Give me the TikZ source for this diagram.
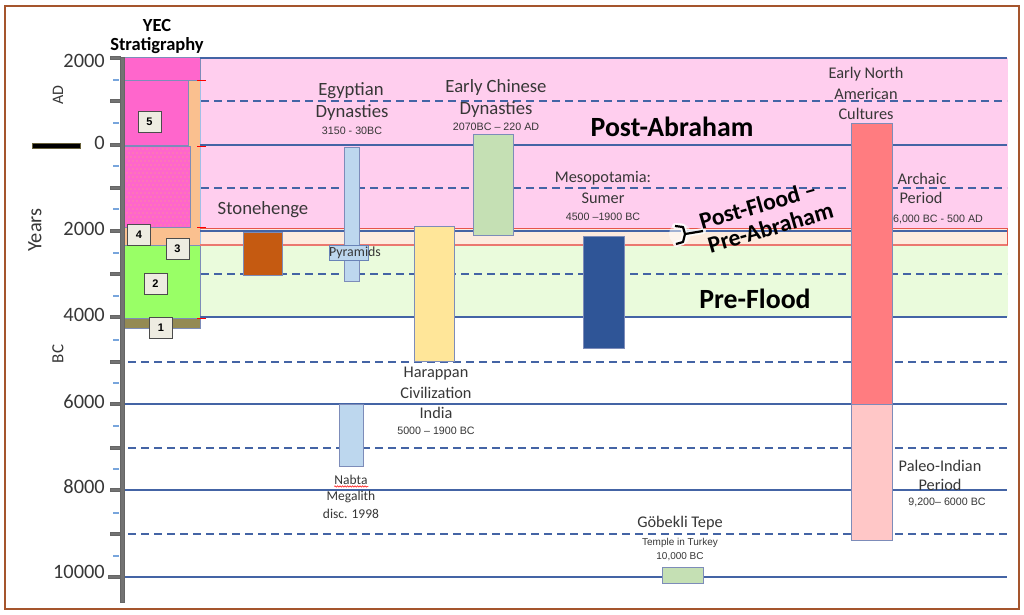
\documentclass[tikz,border=0pt]{standalone}
\usepackage{fontspec}
\setmainfont{Carlito}
\newfontfamily\arialf{Liberation Sans}
\usetikzlibrary{decorations.pathmorphing}
\definecolor{framec}{RGB}{165,85,45}
\definecolor{linec}{RGB}{68,100,165}
\definecolor{pinkband}{RGB}{255,206,238}
\definecolor{peachband}{RGB}{253,235,222}
\definecolor{greenband}{RGB}{234,251,220}
\definecolor{redl}{RGB}{230,85,75}
\definecolor{magc}{RGB}{255,102,204}
\definecolor{peachc}{RGB}{250,192,143}
\definecolor{greenc}{RGB}{153,255,102}
\definecolor{olivec}{RGB}{148,138,84}
\definecolor{creamc}{RGB}{238,236,225}
\definecolor{axisc}{RGB}{115,115,115}
\definecolor{minorc}{RGB}{120,165,220}
\definecolor{lblue}{RGB}{189,215,238}
\definecolor{lgreen}{RGB}{197,224,180}
\definecolor{lyellow}{RGB}{255,230,153}
\definecolor{dblue}{RGB}{47,85,151}
\definecolor{obrown}{RGB}{197,90,17}
\definecolor{salmon}{RGB}{255,124,128}
\definecolor{lpink}{RGB}{255,199,199}
\definecolor{barl}{RGB}{125,140,185}
\definecolor{txtc}{RGB}{55,55,55}
\definecolor{dotc}{RGB}{250,170,120}
\newcommand\myfs[1]{\fontsize{#1}{#1}\selectfont}
\tikzset{
  hl/.style={draw=linec, line width=1.3},
  hd/.style={draw=linec, line width=1.3, dash pattern=on 8pt off 5pt},
  bar/.style={draw=barl, line width=0.7},
  strat/.style={draw=barl, line width=0.6},
  numbox/.style={draw=black!70, fill=creamc, line width=0.7, minimum width=23pt, minimum height=21pt, inner sep=0pt, font=\arialf\bfseries\myfs{11}},
  lbl/.style={text=txtc, inner sep=0pt, font=\myfs{18.7}},
  lbm/.style={text=txtc, inner sep=0pt, font=\myfs{16.3}},
  lbs/.style={text=txtc, inner sep=0pt, font=\arialf\myfs{10.7}},
  big/.style={text=black, inner sep=0pt, font=\bfseries\myfs{27.8}},
  ylab/.style={text=txtc, inner sep=0pt, font=\myfs{20.4}, anchor=east},
  majtick/.style={draw=black!60, fill=axisc, line width=0.5},
  mintick/.style={draw=minorc, line width=1.1}
}
\begin{document}
\begin{tikzpicture}[x=1pt,y=-1pt]
\useasboundingbox (0,0) rectangle (1024,614);
\fill[white] (0,0) rectangle (1024,614);
\draw[framec, line width=1.6] (5,6) rectangle (1019,609);

% bands
\fill[pinkband] (200,58) rectangle (1008,228);
\fill[peachband] (200,228) rectangle (1008,245);
\fill[greenband] (200,245) rectangle (1008,317);
\draw[minorc!70, line width=0.6] (200,58) -- (200,317);

% stratigraphy column
\fill[peachc] (124,80) rectangle (200,245);
\draw[strat, fill=magc] (124,57) rectangle (200,80);
\draw[strat, fill=magc] (124,80) rectangle (188,145);
\draw[strat, fill=magc] (124,146) rectangle (190,227);
\foreach \r in {0,...,19}{
  \foreach \c in {0,...,15}{
    \fill[dotc] ({127+4*\c+2*mod(\r,2)},{149+4*\r}) circle (0.55);
  }
}
\draw[strat, fill=greenc] (124,245) rectangle (200,318);
\draw[strat, fill=olivec] (124,318) rectangle (200,328);

% horizontal lines
\foreach \yy in {58,145,231,317}{\draw[hl] (200,\yy) -- (1007,\yy);}
\foreach \yy in {404,490,577}{\draw[hl] (125,\yy) -- (1007,\yy);}
\foreach \yy in {101,188,274}{\draw[hd] (201,\yy) -- (1007,\yy);}
\foreach \yy in {362,448,534}{\draw[hd] (128,\yy) -- (1007,\yy);}

% red edges of the Post-Flood band
\draw[redl, line width=1] (200,228) -- (1008,228);
\draw[redl!80, line width=1.2] (200,245) -- (1008,245);
\draw[redl, line width=1] (1007.5,228) -- (1007.5,245);
\foreach \yy in {80,146,227,318}{\draw[red, line width=0.8] (197,\yy) -- (206,\yy);}

% event bars
\draw[bar, fill=obrown] (243,232) rectangle (282,275);
\draw[bar, fill=lblue] (344,147) rectangle (359,281);
\draw[bar, fill=lgreen] (473,134) rectangle (513,235);
\draw[bar, fill=lyellow] (414,226) rectangle (454,361);
\draw[bar, fill=dblue] (583,236) rectangle (624,348);
\draw[bar, fill=salmon] (851,123) rectangle (892,404);
\draw[bar, fill=lpink] (851,404) rectangle (892,540);
\draw[bar, fill=lblue] (339,404) rectangle (363,466);
\draw[bar, fill=lgreen] (662,567) rectangle (703,583);
\draw[draw=linec!80, fill=lblue, line width=0.7] (329,245) rectangle (368,260);
\node[inner sep=0pt, text=txtc, font=\myfs{13.9}] (pyr) at (355,252.5) {Pyramids};

% axis
\fill[axisc] (120,57) rectangle (124,602);
\draw[black!60, line width=0.4] (120,57) rectangle (124,602);
\foreach \yy in {58,101,145,188,231,274,317,362,404,448,490,534}{
  \draw[majtick] (110,\yy-1.5) rectangle (120,\yy+1.5);
}
\draw[majtick] (108,575.5) rectangle (120,578.5);
\foreach \yy in {80,123,166,209,253,296,340,383,426,469,513,556}{
  \draw[mintick] (113,\yy) -- (119,\yy);
}
\node[ylab] (y1) at (105,61) {2000};
\node[ylab] (y2) at (105,143) {0};
\node[ylab] (y3) at (105,229) {2000};
\node[ylab] (y4) at (105,315) {4000};
\node[ylab] (y5) at (105,402) {6000};
\node[ylab] (y6) at (105,487) {8000};
\node[ylab] (y7) at (105,572) {10000};
\node[text=txtc, inner sep=0pt, font=\myfs{20.4}, rotate=90] (years) at (35,230) {Years};
\node[text=txtc, inner sep=0pt, font=\myfs{16}, rotate=90] (ad) at (58,95) {AD};
\node[text=txtc, inner sep=0pt, font=\myfs{17}, rotate=90] (bc) at (58,354) {BC};
\draw[draw=olivec!70!black, fill=black, line width=0.6] (32,143) rectangle (80,148);

% stratigraphy labels
\node[inner sep=0pt, font=\bfseries\myfs{18.5}] (yec) at (157,25) {YEC};
\node[inner sep=0pt, font=\bfseries\myfs{18.5}] (strt) at (157,46) {Stratigraphy};
\node[numbox] (n5) at (149.5,122) {5};
\node[numbox] (n4) at (139,235) {4};
\node[numbox] (n3) at (177.5,248.5) {3};
\node[numbox] (n2) at (155.5,283.5) {2};
\node[numbox] (n1) at (161,328) {1};

% labels
\node[lbl] (sh) at (263,210) {Stonehenge};
\node[lbl] (eg1) at (351,91) {Egyptian};
\node[lbl] (eg2) at (352,113) {Dynasties};
\node[lbs] (eg3) at (352,131) {3150 - 30BC};
\node[lbl] (ch1) at (496,88) {Early Chinese};
\node[lbl] (ch2) at (496,110) {Dynasties};
\node[lbs] (ch3) at (496,127) {2070BC – 220 AD};
\node[lbm] (ha1) at (436,374) {Harappan};
\node[lbm] (ha2) at (436,393) {Civilization};
\node[lbm] (ha3) at (436,413) {India};
\node[lbs] (ha4) at (436,431) {5000 – 1900 BC};
\node[lbm] (me1) at (603,178) {Mesopotamia:};
\node[lbm] (me2) at (603,198) {Sumer};
\node[lbs] (me3) at (603,217) {4500 –1900 BC};
\node[lbm] (na1) at (866,74) {Early North};
\node[lbm] (na2) at (866,94) {American};
\node[lbm] (na3) at (866,114) {Cultures};
\node[lbm] (ar1) at (922,179) {Archaic};
\node[lbm] (ar2) at (921,198) {Period};
\node[lbs] (ar3) at (938,219) {6,000 BC - 500 AD};
\node[lbm] (pa1) at (940,466) {Paleo-Indian};
\node[lbm] (pa2) at (940,485) {Period};
\node[lbs] (pa3) at (947,502) {9,200– 6000 BC};
\node[text=txtc, inner sep=0pt, font=\myfs{13.5}] (nb1) at (351,480) {Nabta};
\node[text=txtc, inner sep=0pt, font=\myfs{13.5}] (nb2) at (351,497) {Megalith};
\node[text=txtc, inner sep=0pt, font=\myfs{13.5}] (nb3) at (351,514) {disc. 1998};
\draw[red, line width=0.5, decorate, decoration={snake, segment length=2.5pt, amplitude=0.7pt}] (nb1.south west) ++(0,1.5) -- ++(34,0);
\node[lbm] (go1) at (680,523) {Göbekli Tepe};
\node[text=txtc, inner sep=0pt, font=\arialf\myfs{10}] (go2) at (680,543) {Temple in Turkey};
\node[text=txtc, inner sep=0pt, font=\arialf\myfs{10}] (go3) at (680,557) {10,000 BC};

\node[big] (pab) at (672,127) {Post-Abraham};
\node[big] (pfl) at (755,299) {Pre-Flood};

% Post-Flood / Pre-Abraham with brace
\coordinate (bt) at (703,231);
\fill[white, opacity=0.5] (680,234) circle (11);
\draw[white, opacity=0.85, line width=6, line cap=round, line join=round]
  (675,226) -- (683,227) -- (685,234) -- (683,242) -- (676,244) (685,234) -- (bt);
\draw[black, line width=2.2, line join=round]
  (675,226) -- (683,227) -- (685,234) -- (683,242) -- (676,244) (685,234) -- (bt);
\node[inner sep=0pt, font=\bfseries\myfs{23.6}, rotate=16, align=center] (pf) at (767,215.5)
  {Post-Flood –\hspace*{12pt}\\[1.5pt]Pre-Abraham};
\end{tikzpicture}
\end{document}
